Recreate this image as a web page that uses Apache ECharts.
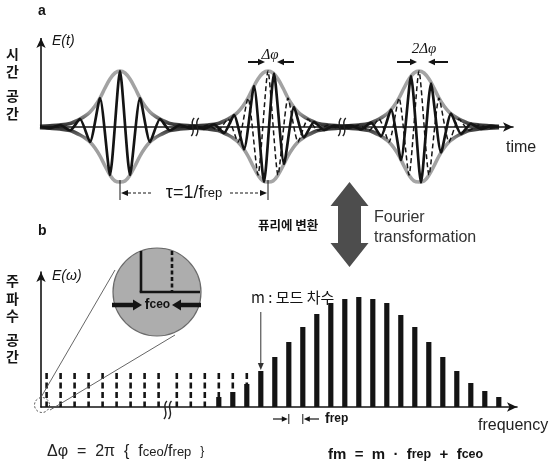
<!DOCTYPE html>
<html><head><meta charset="utf-8">
<script src="https://cdn.jsdelivr.net/npm/echarts@6/dist/echarts.min.js"></script>
<style>html,body{margin:0;padding:0;background:#fff}#c{width:552px;height:466px}</style>
</head><body><div id="c"></div>
<script>
// ================= DATA =================
// (a) time domain: pulse centres (time units along the top axis)
const pulseCenters = [79, 227, 378];
// Gaussian-like envelope (offset from centre, amplitude)
const envOffsets = [-80,-70,-60,-50,-45,-40,-35,-30,-25,-20,-15,-10,-5,0,5,10,15,20,25,30,35,40,45,50,60,70,80];
const envAmps    = [0.6,1.2,2,3.5,5.5,8,11,15,21,29,39,48,54,56,54,48,39,29,21,15,11,8,5.5,3.5,2,1.2,0.6];
const envLowAmps = [-0.6,-1.2,-2,-3.5,-5.5,-8,-11,-15,-21,-29,-39,-48,-54,-55,-54,-48,-39,-29,-21,-15,-11,-8,-5.5,-3.5,-2,-1.2,-0.6];
// carrier extrema, phase 0 (pulse 1, and dashed reference in pulses 2, 3)
const carrierOff0 = [-80,-70,-60,-50,-40,-30,-20,-10,0,10,20,30,40,50,60,70,80];
const carrierVal0 = [0,-1.2,2,-3.5,8,-15,29,-48,56,-48,29,-15,8,-3.5,2,-1.2,0];
// carrier extrema, shifted by Δφ (pulse 2)
const carrierOff1 = [-80,-74,-64,-54,-44,-34,-24,-14,-4,6,16,26,36,46,56,66,76,80];
const carrierVal1 = [0,1,-1.8,2.6,-6,11.8,-22.5,41,-55,53.5,-37,19.8,-10.4,5,-3,1.5,-0.8,0];
// carrier extrema, shifted by 2Δφ (pulse 3)
const carrierOff2 = [-80,-68,-58,-48,-38,-28,-18,-8,2,12,22,32,42,52,62,72,80];
const carrierVal2 = [0,1.4,-2.3,4.3,-9.2,17.4,-33,51,-55.5,43.5,-25.5,13.4,-7,3.2,-1.9,1.1,0];
const timeBreaks = [154, 301];

// (b) frequency domain: comb modes (mode units along the bottom axis)
const dashedModeX = [0.4,1.4,2.4,3.4,4.4,5.4,6.4,7.4,8.4,9.7,10.7,11.7,12.7,13.7,14.7];
const dashedLevel = 34;
const barModeX   = [12.7,13.7,14.7,15.7,16.7,17.7,18.7,19.7,20.7,21.7,22.7,23.7,24.7,25.7,26.7,27.7,28.7,29.7,30.7,31.7,32.7];
const barHeights = [10,15,23,36,50,65,80,93,104,108,110,108,104,92,80,65,50,36,24,16,10];
const freqBreak = 9.05;
const mModeIndex = 3;      // bar pointed at by "m"
const frepModeIdx = [5, 6]; // bars marked by the frep arrows

// ================= CHART =================
const chart = echarts.init(document.getElementById('c'));
const SANS = '"Liberation Sans", Arial, sans-serif';
const KR = '"Noto Sans CJK KR", sans-serif';
const SERIF = '"Liberation Serif", "DejaVu Serif", serif';
const INK = '#141414';

const envUp = new echarts.graphic.LinearGradient(0,0,0,1,[
  {offset:0,color:'#a6a6a6'},{offset:0.72,color:'#9d9d9d'},{offset:0.9,color:'#454545'},{offset:1,color:'#1c1c1c'}]);
const envLo = new echarts.graphic.LinearGradient(0,0,0,1,[
  {offset:0,color:'#1c1c1c'},{offset:0.1,color:'#454545'},{offset:0.28,color:'#9d9d9d'},{offset:1,color:'#a6a6a6'}]);

function pts(c, offs, vals){ return offs.map((o,i)=>[c+o, vals[i]]); }
const axisLineStyle = {color: INK, width: 1.6};
const series = [];
pulseCenters.forEach((c,i)=>{
  const s = {type:'line', xAxisIndex:0, yAxisIndex:0, data: pts(c, envOffsets, envAmps), smooth:0.35,
    symbol:'none', silent:true, lineStyle:{width:3.6, color: envUp}, z:2};
  if (i === 0) {
    s.clip = false;
    s.markLine = {silent:true, symbol:['none','arrow'], symbolSize:[7,10], label:{show:false},
      lineStyle:{color:INK, width:1.6, type:'solid'}, emphasis:{disabled:true},
      data:[[{coord:[0,0]},{coord:[0,89]}]]};
  }
  series.push(s);
  series.push({type:'line', xAxisIndex:0, yAxisIndex:0, data: pts(c, envOffsets, envLowAmps), smooth:0.35,
    symbol:'none', silent:true, lineStyle:{width:3.6, color: envLo}, z:2});
});
const cOffs = [carrierOff0, carrierOff1, carrierOff2];
const cVals = [carrierVal0, carrierVal1, carrierVal2];
pulseCenters.forEach((c,i)=>{
  series.push({type:'line', xAxisIndex:0, yAxisIndex:0, data: pts(c, cOffs[i], cVals[i]), smooth:0.2,
    symbol:'none', silent:true, lineStyle:{width:2.7, color: INK}, z:3});
});
[1,2].forEach(i=>{
  series.push({type:'line', xAxisIndex:0, yAxisIndex:0, data: pts(pulseCenters[i], carrierOff0, carrierVal0), smooth:0.2,
    symbol:'none', silent:true, lineStyle:{width:1.5, color: INK, type:[5,3]}, z:4});
});
series.push({type:'custom', xAxisIndex:1, yAxisIndex:1, silent:true, z:3,
  data: dashedModeX.map(x=>[x, dashedLevel]),
  renderItem:(p, api)=>{
    const t = api.coord([api.value(0), api.value(1)]), b = api.coord([api.value(0), 0]);
    return {type:'line', shape:{x1:t[0],y1:t[1],x2:b[0],y2:b[1]}, style:{stroke:INK, lineWidth:2.6, lineDash:[6,3.5]}};
  }});
series.push({type:'custom', xAxisIndex:1, yAxisIndex:1, silent:true, z:4,
  data: barModeX.map((x,i)=>[x, barHeights[i]]),
  renderItem:(p, api)=>{
    const t = api.coord([api.value(0), api.value(1)]), b = api.coord([api.value(0), 0]);
    return {type:'rect', shape:{x:t[0]-2.6, y:t[1], width:5.2, height:b[1]-t[1]}, style:{fill:INK}};
  }});

const hidden = {axisTick:{show:false}, axisLabel:{show:false}, splitLine:{show:false}};
chart.setOption({
  animation:false,
  backgroundColor:'#fff',
  grid:[{left:41, top:38, width:472, height:149}, {left:41, top:272, width:476, height:135}],
  xAxis:[
    Object.assign({gridIndex:0, type:'value', min:0, max:472, z:5,
      axisLine:{show:true, onZero:true, symbol:['none','arrow'], symbolSize:[7,10], lineStyle:axisLineStyle}}, hidden),
    Object.assign({gridIndex:1, type:'value', min:0, max:34, z:5,
      axisLine:{show:true, symbol:['none','arrow'], symbolSize:[7,10], lineStyle:axisLineStyle}}, hidden)
  ],
  yAxis:[
    Object.assign({gridIndex:0, type:'value', min:-60, max:89, axisLine:{show:false}}, hidden),
    Object.assign({gridIndex:1, type:'value', min:0, max:135,
      axisLine:{show:true, symbol:['none','arrow'], symbolSize:[7,10], lineStyle:axisLineStyle}}, hidden)
  ],
  series
});

// ================= ANNOTATIONS =================
const g = [];
function T(text, x, y, font, extra){
  g.push({type:'text', silent:true, z:100, style:Object.assign({text, x, y, font, fill:INK,
    textAlign:'left', align:'left', textVerticalAlign:'middle', verticalAlign:'middle'}, extra||{})});
}
function L(x1,y1,x2,y2,w,color,dash){
  g.push({type:'line', silent:true, z:100, shape:{x1,y1,x2,y2}, style:{stroke:color||INK, lineWidth:w||1, lineDash:dash||null}});
}
function P(points, fill){ g.push({type:'polygon', silent:true, z:100, shape:{points}, style:{fill:fill||INK}}); }
function arrowR(x1, x2, y, w, hl, hw, dash){ L(x1,y,x2-hl+1,y,w,INK,dash); P([[x2,y],[x2-hl,y-hw],[x2-hl,y+hw]]); }
function arrowL(x1, x2, y, w, hl, hw, dash){ L(x1,y,x2+hl-1,y,w,INK,dash); P([[x2,y],[x2+hl,y-hw],[x2+hl,y+hw]]); }
function brk(x, y){
  [-2.3, 2.3].forEach(dx=>g.push({type:'bezierCurve', silent:true, z:101,
    shape:{x1:x+dx+1.5, y1:y-9, cpx1:x+dx-4.5, cpy1:y-3, cpx2:x+dx+4.5, cpy2:y+3, x2:x+dx-1.5, y2:y+9},
    style:{stroke:'#222', lineWidth:1.4, fill:null}}));
}
const toTop = p=>chart.convertToPixel({gridIndex:0}, p);
const toBot = p=>chart.convertToPixel({gridIndex:1}, p);

// panel labels
T('a', 38, 11, 'bold 14px ' + SANS);
T('b', 38, 231, 'bold 14px ' + SANS);
T('E(t)', 52, 41, 'italic 14px ' + SANS);
T('E(ω)', 52, 276, 'italic 14px ' + SANS);
[['시',54],['간',72],['공',96],['간',114]].forEach(([c,y])=>T(c, 12.5, y, 'bold 14px ' + KR, {textAlign:'center', align:'center'}));
[['주',281],['파',299],['수',316],['공',340],['간',357]].forEach(([c,y])=>T(c, 12.5, y, 'bold 14px ' + KR, {textAlign:'center', align:'center'}));
T('time', 506, 148, '16px ' + SANS, {fill:'#222'});
T('frequency', 478, 426, '16px ' + SANS, {fill:'#222'});

// breaks
timeBreaks.forEach(t=>{ const p = toTop([t,0]); brk(p[0], p[1]); });
{ const p = toBot([freqBreak,0]); brk(p[0], p[1]+3); }

// τ = 1/frep
{
  const a = toTop([pulseCenters[0], 0])[0], b = toTop([pulseCenters[1], 0])[0], y = 193;
  L(a,180,a,200,1,INK); L(b,180,b,200,1,INK);
  arrowL(151, a+1, y, 1.2, 7, 3, [3,2]);
  arrowR(230, b-1, y, 1.2, 7, 3, [3,2]);
  g.push({type:'text', silent:true, z:100, style:{text:'{n|τ=1/f}{s|rep}', x:(a+b)/2, y:y, textAlign:'center', align:'center',
    textVerticalAlign:'middle', verticalAlign:'middle', fill:INK,
    rich:{n:{fontSize:18, fontFamily:'"Liberation Sans", Arial, sans-serif', fill:INK},
          s:{fontSize:13, fontFamily:'"Liberation Sans", Arial, sans-serif', fill:INK}}}});
}
// Δφ, 2Δφ
T('Δφ', 270, 55, 'italic 15px ' + SERIF, {textAlign:'center', align:'center'});
arrowR(248, 265, 62, 2, 7, 3.2); arrowL(294, 277, 62, 2, 7, 3.2);
T('2Δφ', 424, 49, 'italic 15px ' + SERIF, {textAlign:'center', align:'center'});
arrowR(397, 417, 62, 2, 7, 3.2); arrowL(448, 428, 62, 2, 7, 3.2);

// Fourier double arrow
P([[349.5,182],[368.5,206],[361,206],[361,243],[368.5,243],[349.5,267],[330.5,243],[338,243],[338,206],[330.5,206]], '#4d4d4d');
T('퓨리에 변환', 258, 225, 'bold 12.5px ' + KR);
T('Fourier', 374, 218, '16px ' + SANS, {fill:'#333'});
T('transformation', 374, 238, '16px ' + SANS, {fill:'#333'});

// inset circle
g.push({type:'circle', silent:true, z:99, shape:{cx:42, cy:405, r:7.5}, style:{fill:null, stroke:'#444', lineWidth:1, lineDash:[2,2]}});
L(40,399,115,270,0.9,'#555'); L(50,410,175,335,0.9,'#555');
g.push({type:'circle', silent:true, z:99, shape:{cx:157, cy:292, r:44}, style:{fill:'#adadad', stroke:'#6a6a6a', lineWidth:1.2}});
L(141,251,141,292,2.6,INK); L(139.7,292,200,292,2.6,INK);
L(172,251,172,292,2.6,INK,[4,2.5]);
arrowR(112, 142, 305, 4.5, 9, 5.5);
arrowL(201, 172, 305, 4.5, 9, 5.5);
g.push({type:'text', silent:true, z:100, style:{text:'{n|f}{s|ceo}', x:157.5, y:305, textAlign:'center', align:'center',
  textVerticalAlign:'middle', verticalAlign:'middle', fill:INK,
  rich:{n:{fontSize:14, fontWeight:'bold', fontFamily:'"Liberation Sans", Arial, sans-serif', fill:INK},
        s:{fontSize:12, fontWeight:'bold', fontFamily:'"Liberation Sans", Arial, sans-serif', fill:INK}}}});

// m : mode order
{
  const p = toBot([barModeX[mModeIndex], barHeights[mModeIndex]]);
  T('m : 모드 차수', 251, 297, '15px ' + KR);
  L(p[0], 312, p[0], p[1]-7, 1, '#333');
  P([[p[0], p[1]-1],[p[0]-3, p[1]-8],[p[0]+3, p[1]-8]], '#333');
}
// frep arrows
{
  const xa = toBot([barModeX[frepModeIdx[0]],0])[0], xb = toBot([barModeX[frepModeIdx[1]],0])[0], y = 419;
  L(xa, 414, xa, 424, 1, INK); L(xb, 414, xb, 424, 1, INK);
  arrowR(273, xa-1, y, 1.2, 6, 2.8);
  arrowL(319, xb+1, y, 1.2, 6, 2.8);
  g.push({type:'text', silent:true, z:100, style:{text:'{n|f}{s|rep}', x:325, y:y, textAlign:'left', align:'left',
    textVerticalAlign:'middle', verticalAlign:'middle', fill:INK,
    rich:{n:{fontSize:14, fontWeight:'bold', fontFamily:'"Liberation Sans", Arial, sans-serif', fill:INK},
          s:{fontSize:12, fontWeight:'bold', fontFamily:'"Liberation Sans", Arial, sans-serif', fill:INK}}}});
}
// formulas
g.push({type:'text', silent:true, z:100, style:{text:'{n|Δφ  =  2π  {  f}{s|ceo}{n|/f}{s|rep}{n|  \u007D}', x:47, y:452,
  textAlign:'left', align:'left', textVerticalAlign:'middle', verticalAlign:'middle', fill:'#222',
  rich:{n:{fontSize:16, fontFamily:'"Liberation Sans", Arial, sans-serif', fill:'#222'},
        s:{fontSize:13, fontFamily:'"Liberation Sans", Arial, sans-serif', fill:'#222'}}}});
g.push({type:'text', silent:true, z:100, style:{text:'{n|fm  =  m  ·  f}{s|rep}{n|  +  f}{s|ceo}', x:328, y:455,
  textAlign:'left', align:'left', textVerticalAlign:'middle', verticalAlign:'middle', fill:INK,
  rich:{n:{fontSize:15, fontWeight:'bold', fontFamily:'"Liberation Sans", Arial, sans-serif', fill:INK},
        s:{fontSize:12.5, fontWeight:'bold', fontFamily:'"Liberation Sans", Arial, sans-serif', fill:INK}}}});

chart.setOption({graphic:{elements:g}});
</script>
</body></html>
